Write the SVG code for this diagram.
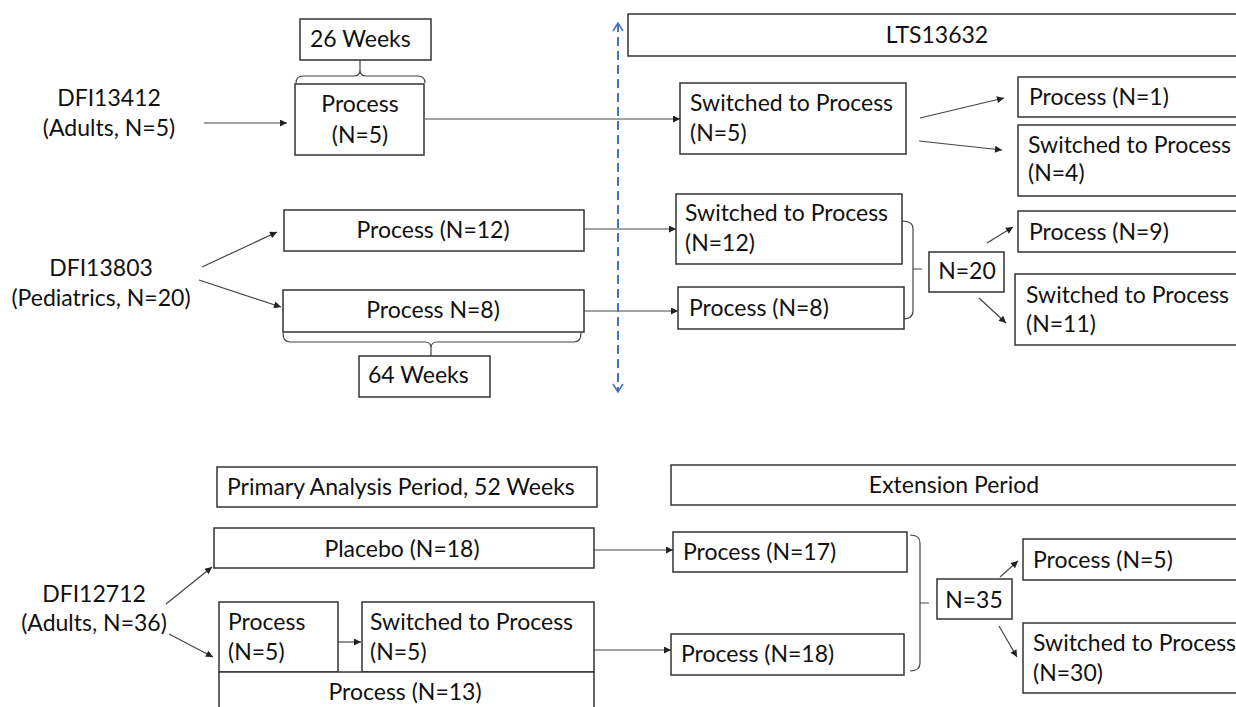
<svg xmlns="http://www.w3.org/2000/svg" width="1236" height="707" viewBox="0 0 1236 707">
<defs>
<marker id="ah" viewBox="0 0 10 10" refX="10" refY="5" markerWidth="8" markerHeight="7" markerUnits="userSpaceOnUse" orient="auto">
<path d="M0,0 L10,5 L0,10 z" fill="#222"/>
</marker>
<marker id="chev" viewBox="0 0 10 12" refX="9" refY="6" markerWidth="10" markerHeight="12" markerUnits="userSpaceOnUse" orient="auto-start-reverse">
<path d="M1,1 L9,6 L1,11" fill="none" stroke="#4472C4" stroke-width="1.6"/>
</marker>
</defs>
<style>
text{font-family:Lato,"Liberation Sans",sans-serif;font-size:23px;fill:#111;}
.c{text-anchor:middle;}
.box{fill:#fff;stroke:#333;stroke-width:1.5;}
.ln{fill:none;stroke:#444;stroke-width:1.2;}
.ar{fill:none;stroke:#444;stroke-width:1.2;marker-end:url(#ah);}
</style>
<rect width="1236" height="707" fill="#fff"/>

<g id="connectors">
<line class="ar" x1="204" y1="123" x2="287" y2="123"/>
<line class="ar" x1="425" y1="119" x2="680" y2="119"/>
<line class="ar" x1="920" y1="118" x2="1004" y2="98"/>
<line class="ar" x1="919" y1="141" x2="1002" y2="150"/>
<line class="ar" x1="202" y1="267" x2="277" y2="232"/>
<line class="ar" x1="199" y1="280" x2="281" y2="307"/>
<line class="ar" x1="584" y1="229" x2="676" y2="229"/>
<line class="ar" x1="584" y1="311" x2="678" y2="311"/>
<line class="ar" x1="987" y1="243" x2="1013" y2="227"/>
<line class="ar" x1="979" y1="298" x2="1006" y2="323"/>
<line class="ar" x1="166" y1="604" x2="212" y2="567"/>
<line class="ar" x1="169" y1="634" x2="213" y2="657"/>
<line class="ar" x1="338" y1="642" x2="361" y2="642"/>
<line class="ar" x1="594" y1="550" x2="673" y2="550"/>
<line class="ar" x1="594" y1="650" x2="671" y2="650"/>
<line class="ar" x1="1000" y1="577" x2="1018" y2="561"/>
<line class="ar" x1="999" y1="626" x2="1017" y2="657"/>
<line x1="618" y1="23" x2="618" y2="392" stroke="#4472C4" stroke-width="2" stroke-dasharray="9,5" marker-start="url(#chev)" marker-end="url(#chev)"/>
<path class="ln" d="M296,83 Q296,76 303,76 L354,76 Q360,76 360,70 Q360,76 366,76 L418,76 Q425,76 425,83 M360,70 L360,60"/>
<path class="ln" d="M283,333 Q283,342 290,342 L425,342 Q431,342 431,348 Q431,342 437,342 L574,342 Q581,342 581,333 M431,348 L431,356"/>
<path class="ln" d="M902,221 Q913,221 913,229 L913,311 Q913,319 902,319 M913,269 L922,269"/>
<path class="ln" d="M910,535 Q920,535 920,543 L920,663 Q920,671 910,671 M920,603 L929,603"/>
</g>

<g id="dfi13412"><text class="c" x="109" y="106">DFI13412</text><text class="c" x="109" y="136">(Adults, N=5)</text></g>
<g id="weeks26"><rect class="box" x="300" y="19" width="131" height="41"/><text x="310" y="47">26 Weeks</text></g>
<g id="proc5a"><rect class="box" x="295" y="84" width="129" height="71"/><text class="c" x="360" y="112">Process</text><text class="c" x="360" y="143">(N=5)</text></g>
<g id="lts"><rect class="box" x="628" y="14" width="615" height="42"/><text class="c" x="937" y="43">LTS13632</text></g>
<g id="sw5"><rect class="box" x="680" y="83" width="226" height="71"/><text x="690" y="111">Switched to Process</text><text x="690" y="141">(N=5)</text></g>
<g id="proc1"><rect class="box" x="1018" y="77" width="225" height="40"/><text x="1029" y="105">Process (N=1)</text></g>
<g id="sw4"><rect class="box" x="1018" y="125" width="225" height="71"/><text x="1028" y="153">Switched to Process</text><text x="1028" y="181">(N=4)</text></g>

<g id="dfi13803"><text class="c" x="101" y="276">DFI13803</text><text class="c" x="101" y="306">(Pediatrics, N=20)</text></g>
<g id="proc12"><rect class="box" x="284" y="210" width="300" height="41"/><text class="c" x="433" y="238">Process (N=12)</text></g>
<g id="proc8a"><rect class="box" x="283" y="290" width="301" height="42"/><text class="c" x="433" y="318">Process N=8)</text></g>
<g id="weeks64"><rect class="box" x="359" y="356" width="131" height="41"/><text x="368" y="383">64 Weeks</text></g>
<g id="sw12"><rect class="box" x="676" y="194" width="226" height="70"/><text x="685" y="221">Switched to Process</text><text x="685" y="251">(N=12)</text></g>
<g id="proc8b"><rect class="box" x="678" y="287" width="226" height="42"/><text x="689" y="316">Process (N=8)</text></g>
<g id="n20"><rect class="box" x="929" y="252" width="75" height="40"/><text class="c" x="967" y="279">N=20</text></g>
<g id="proc9"><rect class="box" x="1018" y="211" width="225" height="41"/><text x="1029" y="240">Process (N=9)</text></g>
<g id="sw11"><rect class="box" x="1015" y="274" width="228" height="71"/><text x="1026" y="303">Switched to Process</text><text x="1026" y="332">(N=11)</text></g>

<g id="primary"><rect class="box" x="217" y="467" width="380" height="40"/><text x="227" y="495">Primary Analysis Period, 52 Weeks</text></g>
<g id="extension"><rect class="box" x="671" y="465" width="572" height="40"/><text class="c" x="954" y="493">Extension Period</text></g>
<g id="dfi12712"><text class="c" x="94" y="602">DFI12712</text><text class="c" x="94" y="631">(Adults, N=36)</text></g>
<g id="placebo"><rect class="box" x="214" y="528" width="380" height="40"/><text class="c" x="402" y="557">Placebo (N=18)</text></g>
<g id="proc5b"><rect class="box" x="219" y="602" width="119" height="70"/><text x="228" y="630">Process</text><text x="228" y="660">(N=5)</text></g>
<g id="sw5b"><rect class="box" x="362" y="602" width="232" height="70"/><text x="370" y="630">Switched to Process</text><text x="370" y="660">(N=5)</text></g>
<g id="proc13"><rect class="box" x="219" y="672" width="375" height="40"/><text class="c" x="405" y="700">Process (N=13)</text></g>
<g id="proc17"><rect class="box" x="673" y="532" width="234" height="40"/><text x="683" y="560">Process (N=17)</text></g>
<g id="proc18"><rect class="box" x="671" y="634" width="233" height="41"/><text x="681" y="662">Process (N=18)</text></g>
<g id="n35"><rect class="box" x="937" y="579" width="75" height="40"/><text class="c" x="974" y="608">N=35</text></g>
<g id="proc5c"><rect class="box" x="1023" y="539" width="220" height="41"/><text x="1033" y="568">Process (N=5)</text></g>
<g id="sw30"><rect class="box" x="1023" y="623" width="220" height="70"/><text x="1033" y="651">Switched to Process</text><text x="1033" y="681">(N=30)</text></g>
</svg>
